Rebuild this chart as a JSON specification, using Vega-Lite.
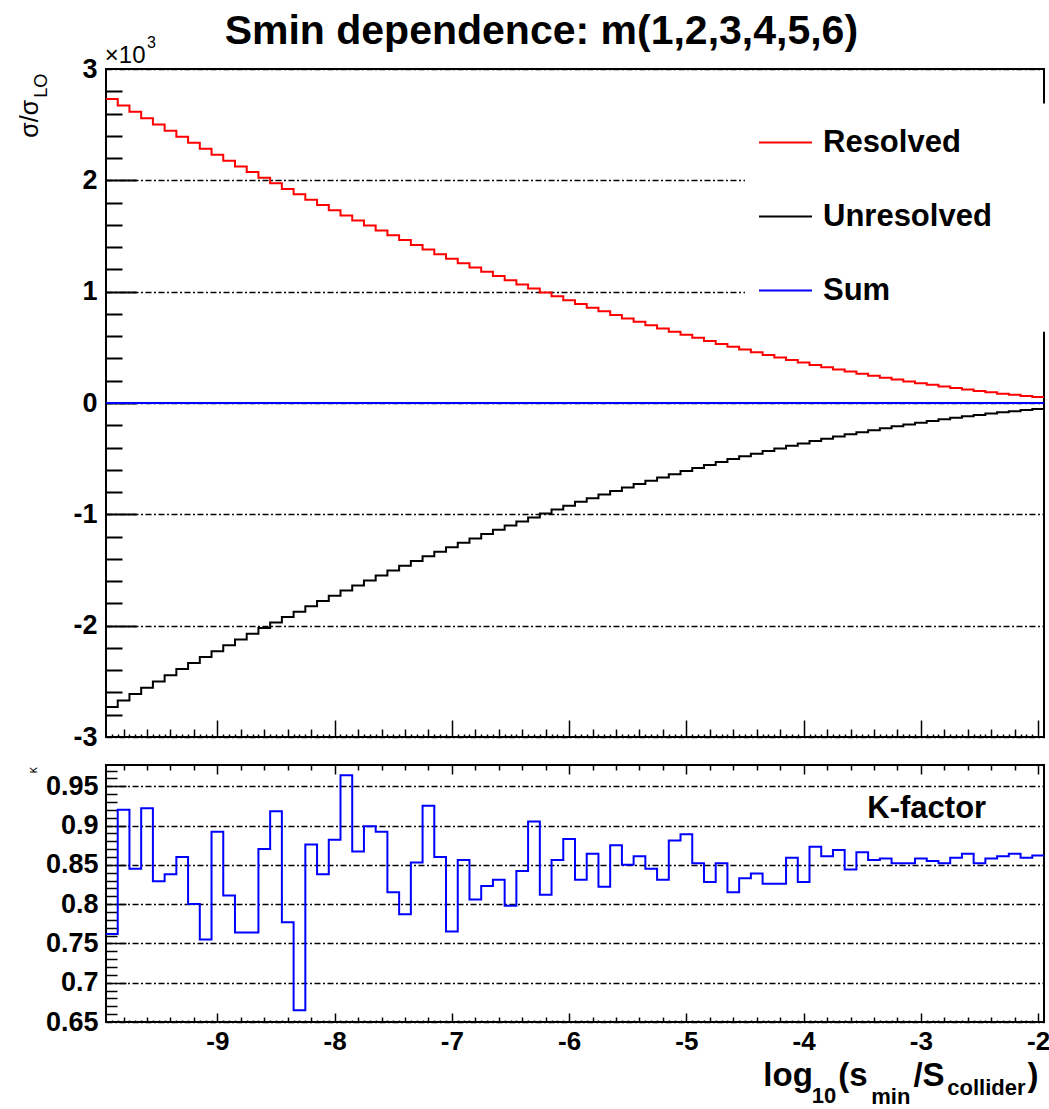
{
  "$schema": "https://vega.github.io/schema/vega-lite/v6.json",
  "background": "white",
  "padding": {"left": 17, "top": 9, "right": 0, "bottom": 0},
  "config": {
    "font": "Liberation Sans",
    "view": {"stroke": "black", "strokeWidth": 2},
    "axis": {"labelFont": "Liberation Sans", "labelColor": "black", "labelFontWeight": "bold", "labelFontSize": 27},
    "text": {"font": "Liberation Sans", "color": "black"}
  },
  "bounds": "flush",
  "spacing": 28,
  "resolve": {"scale": {"x": "independent", "y": "independent"}},
  "datasets": {
    "hist": [
      {"x": -9.95, "Resolved": 2731, "Unresolved": -2730, "Sum": 0.762},
      {"x": -9.85, "Resolved": 2673, "Unresolved": -2672, "Sum": 0.92},
      {"x": -9.75, "Resolved": 2615, "Unresolved": -2614, "Sum": 0.845},
      {"x": -9.65, "Resolved": 2558, "Unresolved": -2557, "Sum": 0.922},
      {"x": -9.55, "Resolved": 2502, "Unresolved": -2501, "Sum": 0.829},
      {"x": -9.45, "Resolved": 2446, "Unresolved": -2445, "Sum": 0.838},
      {"x": -9.35, "Resolved": 2391, "Unresolved": -2390, "Sum": 0.86},
      {"x": -9.25, "Resolved": 2337, "Unresolved": -2336, "Sum": 0.8},
      {"x": -9.15, "Resolved": 2283, "Unresolved": -2282, "Sum": 0.755},
      {"x": -9.05, "Resolved": 2230, "Unresolved": -2229, "Sum": 0.892},
      {"x": -8.95, "Resolved": 2177, "Unresolved": -2176, "Sum": 0.811},
      {"x": -8.85, "Resolved": 2125, "Unresolved": -2124, "Sum": 0.764},
      {"x": -8.75, "Resolved": 2074, "Unresolved": -2073, "Sum": 0.764},
      {"x": -8.65, "Resolved": 2023, "Unresolved": -2022, "Sum": 0.87},
      {"x": -8.55, "Resolved": 1973, "Unresolved": -1972, "Sum": 0.918},
      {"x": -8.45, "Resolved": 1923, "Unresolved": -1922, "Sum": 0.777},
      {"x": -8.35, "Resolved": 1875, "Unresolved": -1874, "Sum": 0.665},
      {"x": -8.25, "Resolved": 1826, "Unresolved": -1825, "Sum": 0.876},
      {"x": -8.15, "Resolved": 1779, "Unresolved": -1778, "Sum": 0.838},
      {"x": -8.05, "Resolved": 1732, "Unresolved": -1731, "Sum": 0.882},
      {"x": -7.95, "Resolved": 1685, "Unresolved": -1684, "Sum": 0.964},
      {"x": -7.85, "Resolved": 1640, "Unresolved": -1639, "Sum": 0.867},
      {"x": -7.75, "Resolved": 1595, "Unresolved": -1594, "Sum": 0.899},
      {"x": -7.65, "Resolved": 1550, "Unresolved": -1549, "Sum": 0.892},
      {"x": -7.55, "Resolved": 1506, "Unresolved": -1505, "Sum": 0.815},
      {"x": -7.45, "Resolved": 1463, "Unresolved": -1462, "Sum": 0.787},
      {"x": -7.35, "Resolved": 1420, "Unresolved": -1419, "Sum": 0.853},
      {"x": -7.25, "Resolved": 1378, "Unresolved": -1377, "Sum": 0.925},
      {"x": -7.15, "Resolved": 1337, "Unresolved": -1336, "Sum": 0.86},
      {"x": -7.05, "Resolved": 1296, "Unresolved": -1295, "Sum": 0.765},
      {"x": -6.95, "Resolved": 1256, "Unresolved": -1255, "Sum": 0.856},
      {"x": -6.85, "Resolved": 1217, "Unresolved": -1216, "Sum": 0.806},
      {"x": -6.75, "Resolved": 1178, "Unresolved": -1177, "Sum": 0.823},
      {"x": -6.65, "Resolved": 1140, "Unresolved": -1139, "Sum": 0.831},
      {"x": -6.55, "Resolved": 1102, "Unresolved": -1101, "Sum": 0.798},
      {"x": -6.45, "Resolved": 1065, "Unresolved": -1064, "Sum": 0.842},
      {"x": -6.35, "Resolved": 1029, "Unresolved": -1028, "Sum": 0.905},
      {"x": -6.25, "Resolved": 993, "Unresolved": -992, "Sum": 0.812},
      {"x": -6.15, "Resolved": 958, "Unresolved": -957, "Sum": 0.856},
      {"x": -6.05, "Resolved": 923, "Unresolved": -922, "Sum": 0.883},
      {"x": -5.95, "Resolved": 889, "Unresolved": -888, "Sum": 0.831},
      {"x": -5.85, "Resolved": 856, "Unresolved": -855, "Sum": 0.864},
      {"x": -5.75, "Resolved": 823, "Unresolved": -822, "Sum": 0.822},
      {"x": -5.65, "Resolved": 791, "Unresolved": -790, "Sum": 0.875},
      {"x": -5.55, "Resolved": 760, "Unresolved": -759, "Sum": 0.85},
      {"x": -5.45, "Resolved": 729, "Unresolved": -728, "Sum": 0.861},
      {"x": -5.35, "Resolved": 699, "Unresolved": -698, "Sum": 0.845},
      {"x": -5.25, "Resolved": 670, "Unresolved": -669, "Sum": 0.831},
      {"x": -5.15, "Resolved": 641, "Unresolved": -640, "Sum": 0.881},
      {"x": -5.05, "Resolved": 612, "Unresolved": -611, "Sum": 0.889},
      {"x": -4.95, "Resolved": 585, "Unresolved": -584, "Sum": 0.852},
      {"x": -4.85, "Resolved": 558, "Unresolved": -557, "Sum": 0.828},
      {"x": -4.75, "Resolved": 531, "Unresolved": -530, "Sum": 0.852},
      {"x": -4.65, "Resolved": 505, "Unresolved": -504, "Sum": 0.815},
      {"x": -4.55, "Resolved": 480, "Unresolved": -479, "Sum": 0.833},
      {"x": -4.45, "Resolved": 456, "Unresolved": -455, "Sum": 0.839},
      {"x": -4.35, "Resolved": 432, "Unresolved": -431, "Sum": 0.826},
      {"x": -4.25, "Resolved": 409, "Unresolved": -408, "Sum": 0.826},
      {"x": -4.15, "Resolved": 386, "Unresolved": -385, "Sum": 0.859},
      {"x": -4.05, "Resolved": 364, "Unresolved": -363, "Sum": 0.828},
      {"x": -3.95, "Resolved": 342, "Unresolved": -341, "Sum": 0.873},
      {"x": -3.85, "Resolved": 322, "Unresolved": -321, "Sum": 0.861},
      {"x": -3.75, "Resolved": 301, "Unresolved": -300, "Sum": 0.869},
      {"x": -3.65, "Resolved": 282, "Unresolved": -281, "Sum": 0.844},
      {"x": -3.55, "Resolved": 263, "Unresolved": -262, "Sum": 0.866},
      {"x": -3.45, "Resolved": 245, "Unresolved": -244, "Sum": 0.856},
      {"x": -3.35, "Resolved": 227, "Unresolved": -226, "Sum": 0.858},
      {"x": -3.25, "Resolved": 210, "Unresolved": -209, "Sum": 0.852},
      {"x": -3.15, "Resolved": 194, "Unresolved": -193, "Sum": 0.852},
      {"x": -3.05, "Resolved": 178, "Unresolved": -177, "Sum": 0.858},
      {"x": -2.95, "Resolved": 163, "Unresolved": -162, "Sum": 0.855},
      {"x": -2.85, "Resolved": 148, "Unresolved": -147, "Sum": 0.852},
      {"x": -2.75, "Resolved": 134, "Unresolved": -133, "Sum": 0.859},
      {"x": -2.65, "Resolved": 121, "Unresolved": -120, "Sum": 0.864},
      {"x": -2.55, "Resolved": 108, "Unresolved": -107, "Sum": 0.852},
      {"x": -2.45, "Resolved": 96, "Unresolved": -95, "Sum": 0.858},
      {"x": -2.35, "Resolved": 84, "Unresolved": -83, "Sum": 0.861},
      {"x": -2.25, "Resolved": 74, "Unresolved": -73, "Sum": 0.864},
      {"x": -2.15, "Resolved": 63, "Unresolved": -62, "Sum": 0.859},
      {"x": -2.05, "Resolved": 54, "Unresolved": -53, "Sum": 0.862},
      {"x": -1.95, "Resolved": 54, "Unresolved": -53, "Sum": 0.862}
    ]
  },
  "vconcat": [
    {
      "width": 938,
      "height": 668,
      "data": {"name": "hist"},
      "resolve": {"axis": {"x": "independent", "y": "independent"}},
      "layer": [
        {
          "data": {"values": [{}]},
          "mark": {"type": "rect", "color": "white", "clip": false},
          "encoding": {
            "x": {"datum": -4.4, "type": "quantitative", "scale": {"domain": [-9.95, -1.95], "nice": false, "zero": false}, "axis": null},
            "x2": {"datum": -1.92},
            "y": {"datum": 640, "type": "quantitative", "scale": {"domain": [-3000, 3000], "nice": false, "zero": false}, "axis": null},
            "y2": {"datum": 2690}
          }
        },
        {
          "transform": [{"fold": ["Resolved", "Unresolved", "Sum"], "as": ["series", "value"]}],
          "mark": {"type": "line", "interpolate": "step-after", "strokeWidth": 2},
          "encoding": {
            "x": {
              "field": "x", "type": "quantitative",
              "scale": {"domain": [-9.95, -1.95], "nice": false, "zero": false},
              "axis": {
                "orient": "bottom", "title": null, "labels": false, "domain": false, "grid": false,
                "values": [-9.9,-9.85,-9.8,-9.75,-9.7,-9.65,-9.6,-9.55,-9.5,-9.45,-9.4,-9.35,-9.3,-9.25,-9.2,-9.15,-9.1,-9.05,-9,-8.95,-8.9,-8.85,-8.8,-8.75,-8.7,-8.65,-8.6,-8.55,-8.5,-8.45,-8.4,-8.35,-8.3,-8.25,-8.2,-8.15,-8.1,-8.05,-8,-7.95,-7.9,-7.85,-7.8,-7.75,-7.7,-7.65,-7.6,-7.55,-7.5,-7.45,-7.4,-7.35,-7.3,-7.25,-7.2,-7.15,-7.1,-7.05,-7,-6.95,-6.9,-6.85,-6.8,-6.75,-6.7,-6.65,-6.6,-6.55,-6.5,-6.45,-6.4,-6.35,-6.3,-6.25,-6.2,-6.15,-6.1,-6.05,-6,-5.95,-5.9,-5.85,-5.8,-5.75,-5.7,-5.65,-5.6,-5.55,-5.5,-5.45,-5.4,-5.35,-5.3,-5.25,-5.2,-5.15,-5.1,-5.05,-5,-4.95,-4.9,-4.85,-4.8,-4.75,-4.7,-4.65,-4.6,-4.55,-4.5,-4.45,-4.4,-4.35,-4.3,-4.25,-4.2,-4.15,-4.1,-4.05,-4,-3.95,-3.9,-3.85,-3.8,-3.75,-3.7,-3.65,-3.6,-3.55,-3.5,-3.45,-3.4,-3.35,-3.3,-3.25,-3.2,-3.15,-3.1,-3.05,-3,-2.95,-2.9,-2.85,-2.8,-2.75,-2.7,-2.65,-2.6,-2.55,-2.5,-2.45,-2.4,-2.35,-2.3,-2.25,-2.2,-2.15,-2.1,-2.05,-2],
                "tickColor": "black", "tickWidth": 1.5,
                "tickSize": {"condition": [
                  {"test": "abs(datum.value-round(datum.value))<0.001", "value": -17},
                  {"test": "abs(datum.value*5-round(datum.value*5))<0.001", "value": -8}
                ], "value": -3}
              }
            },
            "y": {
              "field": "value", "type": "quantitative",
              "scale": {"domain": [-3000, 3000], "nice": false, "zero": false},
              "axis": {
                "orient": "left", "title": null, "values": [-3000, -2000, -1000, 0, 1000, 2000, 3000],
                "ticks": false, "domain": false, "grid": true, "gridColor": "black", "gridWidth": 1.5,
                "gridDash": [6, 2.5, 2, 2.5], "labelExpr": "'' + (datum.value/1000)", "labelPadding": 9
              }
            },
            "color": {
              "field": "series", "type": "nominal",
              "scale": {"domain": ["Resolved", "Unresolved", "Sum"], "range": ["#ff0000", "#000000", "#0000ff"]},
              "legend": {
                "orient": "none", "legendX": 639, "legendY": 33, "title": null,
                "symbolType": "stroke", "symbolStrokeWidth": 2, "symbolSize": 2809,
                "labelFont": "Liberation Sans", "labelFontSize": 31, "labelFontWeight": "bold", "labelColor": "black",
                "labelLimit": 0,
                "fillColor": "white", "padding": 13, "rowPadding": 31, "labelOffset": 10
              }
            }
          }
        },
        {
          "mark": {"type": "point", "opacity": 0},
          "encoding": {
            "x": {"field": "x", "type": "quantitative", "scale": {"domain": [-9.95, -1.95], "nice": false, "zero": false}, "axis": null},
            "y": {
              "field": "Resolved", "type": "quantitative",
              "scale": {"domain": [-3000, 3000], "nice": false, "zero": false},
              "axis": {
                "orient": "left", "title": null, "labels": false, "domain": false, "grid": false,
                "values": [-2800,-2600,-2400,-2200,-2000,-1800,-1600,-1400,-1200,-1000,-800,-600,-400,-200,0,200,400,600,800,1000,1200,1400,1600,1800,2000,2200,2400,2600,2800],
                "tickColor": "black", "tickWidth": 2,
                "tickSize": {"condition": {"test": "abs(datum.value/1000-round(datum.value/1000))<0.001", "value": -30}, "value": -16}
              }
            }
          }
        },
        {
          "data": {"values": [{}]},
          "mark": {"type": "text", "text": "Smin dependence: m(1,2,3,4,5,6)", "fontSize": 41, "fontWeight": "bold", "align": "center", "baseline": "alphabetic"},
          "encoding": {
            "x": {"datum": -6.237, "type": "quantitative", "scale": {"domain": [-9.95, -1.95], "nice": false, "zero": false}, "axis": null},
            "y": {"datum": 3227, "type": "quantitative", "scale": {"domain": [-3000, 3000], "nice": false, "zero": false}, "axis": null}
          }
        },
        {
          "data": {"values": [{}]},
          "mark": {"type": "text", "text": "×10", "fontSize": 24, "align": "left", "baseline": "alphabetic"},
          "encoding": {
            "x": {"datum": -9.96, "type": "quantitative", "scale": {"domain": [-9.95, -1.95], "nice": false, "zero": false}, "axis": null},
            "y": {"datum": 3057, "type": "quantitative", "scale": {"domain": [-3000, 3000], "nice": false, "zero": false}, "axis": null}
          }
        },
        {
          "data": {"values": [{}]},
          "mark": {"type": "text", "text": "3", "fontSize": 16, "align": "left", "baseline": "alphabetic"},
          "encoding": {
            "x": {"datum": -9.6, "type": "quantitative", "scale": {"domain": [-9.95, -1.95], "nice": false, "zero": false}, "axis": null},
            "y": {"datum": 3191, "type": "quantitative", "scale": {"domain": [-3000, 3000], "nice": false, "zero": false}, "axis": null}
          }
        },
        {
          "data": {"values": [{}]},
          "mark": {"type": "text", "text": "σ/σ", "fontSize": 25, "angle": 270, "align": "left", "baseline": "alphabetic"},
          "encoding": {
            "x": {"datum": -10.527, "type": "quantitative", "scale": {"domain": [-9.95, -1.95], "nice": false, "zero": false}, "axis": null},
            "y": {"datum": 2383, "type": "quantitative", "scale": {"domain": [-3000, 3000], "nice": false, "zero": false}, "axis": null}
          }
        },
        {
          "data": {"values": [{}]},
          "mark": {"type": "text", "text": "LO", "fontSize": 18, "angle": 270, "align": "left", "baseline": "alphabetic"},
          "encoding": {
            "x": {"datum": -10.45, "type": "quantitative", "scale": {"domain": [-9.95, -1.95], "nice": false, "zero": false}, "axis": null},
            "y": {"datum": 2742, "type": "quantitative", "scale": {"domain": [-3000, 3000], "nice": false, "zero": false}, "axis": null}
          }
        }
      ]
    },
    {
      "width": 938,
      "height": 257,
      "data": {"name": "hist"},
      "resolve": {"axis": {"x": "independent", "y": "independent"}},
      "layer": [
        {
          "mark": {"type": "line", "interpolate": "step-after", "strokeWidth": 2, "color": "#0000ff"},
          "encoding": {
            "x": {
              "field": "x", "type": "quantitative",
              "scale": {"domain": [-9.95, -1.95], "nice": false, "zero": false},
              "axis": {
                "orient": "bottom", "title": null, "values": [-9, -8, -7, -6, -5, -4, -3, -2],
                "ticks": false, "domain": false, "grid": false, "labelFlush": false, "labelFontSize": 26,
                "labelExpr": "'' + datum.value", "labelPadding": 6
              }
            },
            "y": {
              "field": "Sum", "type": "quantitative",
              "scale": {"domain": [0.65, 0.977], "nice": false, "zero": false},
              "axis": {
                "orient": "left", "title": null, "values": [0.65, 0.7, 0.75, 0.8, 0.85, 0.9, 0.95],
                "ticks": false, "domain": false, "grid": true, "gridColor": "black", "gridWidth": 1.5,
                "gridDash": [6, 2.5, 2, 2.5], "labelExpr": "'' + round(datum.value*100)/100", "labelPadding": 8
              }
            }
          }
        },
        {
          "mark": {"type": "point", "opacity": 0},
          "encoding": {
            "x": {
              "field": "x", "type": "quantitative",
              "scale": {"domain": [-9.95, -1.95], "nice": false, "zero": false},
              "axis": {
                "orient": "bottom", "title": null, "labels": false, "domain": false, "grid": false,
                "values": [-9.9,-9.85,-9.8,-9.75,-9.7,-9.65,-9.6,-9.55,-9.5,-9.45,-9.4,-9.35,-9.3,-9.25,-9.2,-9.15,-9.1,-9.05,-9,-8.95,-8.9,-8.85,-8.8,-8.75,-8.7,-8.65,-8.6,-8.55,-8.5,-8.45,-8.4,-8.35,-8.3,-8.25,-8.2,-8.15,-8.1,-8.05,-8,-7.95,-7.9,-7.85,-7.8,-7.75,-7.7,-7.65,-7.6,-7.55,-7.5,-7.45,-7.4,-7.35,-7.3,-7.25,-7.2,-7.15,-7.1,-7.05,-7,-6.95,-6.9,-6.85,-6.8,-6.75,-6.7,-6.65,-6.6,-6.55,-6.5,-6.45,-6.4,-6.35,-6.3,-6.25,-6.2,-6.15,-6.1,-6.05,-6,-5.95,-5.9,-5.85,-5.8,-5.75,-5.7,-5.65,-5.6,-5.55,-5.5,-5.45,-5.4,-5.35,-5.3,-5.25,-5.2,-5.15,-5.1,-5.05,-5,-4.95,-4.9,-4.85,-4.8,-4.75,-4.7,-4.65,-4.6,-4.55,-4.5,-4.45,-4.4,-4.35,-4.3,-4.25,-4.2,-4.15,-4.1,-4.05,-4,-3.95,-3.9,-3.85,-3.8,-3.75,-3.7,-3.65,-3.6,-3.55,-3.5,-3.45,-3.4,-3.35,-3.3,-3.25,-3.2,-3.15,-3.1,-3.05,-3,-2.95,-2.9,-2.85,-2.8,-2.75,-2.7,-2.65,-2.6,-2.55,-2.5,-2.45,-2.4,-2.35,-2.3,-2.25,-2.2,-2.15,-2.1,-2.05,-2],
                "tickColor": "black", "tickWidth": 1.5,
                "tickSize": {"condition": [
                  {"test": "abs(datum.value-round(datum.value))<0.001", "value": -9},
                  {"test": "abs(datum.value*5-round(datum.value*5))<0.001", "value": -5}
                ], "value": -2}
              }
            },
            "y": {
              "field": "Sum", "type": "quantitative",
              "scale": {"domain": [0.65, 0.977], "nice": false, "zero": false},
              "axis": {
                "orient": "left", "title": null, "labels": false, "domain": false, "grid": false,
                "values": [0.66,0.67,0.68,0.69,0.7,0.71,0.72,0.73,0.74,0.75,0.76,0.77,0.78,0.79,0.8,0.81,0.82,0.83,0.84,0.85,0.86,0.87,0.88,0.89,0.9,0.91,0.92,0.93,0.94,0.95,0.96,0.97],
                "tickColor": "black", "tickWidth": 1.5,
                "tickSize": {"condition": {"test": "abs(datum.value*20-round(datum.value*20))<0.001", "value": -20}, "value": -11}
              }
            }
          }
        },
        {
          "mark": {"type": "point", "opacity": 0},
          "encoding": {
            "x": {
              "field": "x", "type": "quantitative",
              "scale": {"domain": [-9.95, -1.95], "nice": false, "zero": false},
              "axis": {
                "orient": "top", "title": null, "labels": false, "domain": false, "grid": false,
                "values": [-9.8,-9.6,-9.4,-9.2,-9,-8.8,-8.6,-8.4,-8.2,-8,-7.8,-7.6,-7.4,-7.2,-7,-6.8,-6.6,-6.4,-6.2,-6,-5.8,-5.6,-5.4,-5.2,-5,-4.8,-4.6,-4.4,-4.2,-4,-3.8,-3.6,-3.4,-3.2,-3,-2.8,-2.6,-2.4,-2.2,-2],
                "tickColor": "black", "tickWidth": 1.5,
                "tickSize": {"condition": {"test": "abs(datum.value-round(datum.value))<0.001", "value": -9}, "value": -5}
              }
            },
            "y": {"field": "Sum", "type": "quantitative", "scale": {"domain": [0.65, 0.977], "nice": false, "zero": false}, "axis": null}
          }
        },
        {
          "data": {"values": [{}]},
          "mark": {"type": "text", "text": "K-factor", "fontSize": 31, "fontWeight": "bold", "align": "left", "baseline": "alphabetic"},
          "encoding": {
            "x": {"datum": -3.457, "type": "quantitative", "scale": {"domain": [-9.95, -1.95], "nice": false, "zero": false}, "axis": null},
            "y": {"datum": 0.9095, "type": "quantitative", "scale": {"domain": [0.65, 0.977], "nice": false, "zero": false}, "axis": null}
          }
        },
        {
          "data": {"values": [{}]},
          "mark": {"type": "text", "text": "κ", "fontSize": 12, "angle": 270, "align": "left", "baseline": "alphabetic"},
          "encoding": {
            "x": {"datum": -10.535, "type": "quantitative", "scale": {"domain": [-9.95, -1.95], "nice": false, "zero": false}, "axis": null},
            "y": {"datum": 0.9666, "type": "quantitative", "scale": {"domain": [0.65, 0.977], "nice": false, "zero": false}, "axis": null}
          }
        },
        {
          "data": {"values": [{}]},
          "mark": {"type": "text", "text": "log", "fontSize": 33, "fontWeight": "bold", "align": "left", "baseline": "alphabetic"},
          "encoding": {
            "x": {"datum": -4.344, "type": "quantitative", "scale": {"domain": [-9.95, -1.95], "nice": false, "zero": false}, "axis": null},
            "y": {"datum": 0.5685, "type": "quantitative", "scale": {"domain": [0.65, 0.977], "nice": false, "zero": false}, "axis": null}
          }
        },
        {
          "data": {"values": [{}]},
          "mark": {"type": "text", "text": "10", "fontSize": 22, "fontWeight": "bold", "align": "left", "baseline": "alphabetic"},
          "encoding": {
            "x": {"datum": -3.93, "type": "quantitative", "scale": {"domain": [-9.95, -1.95], "nice": false, "zero": false}, "axis": null},
            "y": {"datum": 0.547, "type": "quantitative", "scale": {"domain": [0.65, 0.977], "nice": false, "zero": false}, "axis": null}
          }
        },
        {
          "data": {"values": [{}]},
          "mark": {"type": "text", "text": "(s", "fontSize": 33, "fontWeight": "bold", "align": "left", "baseline": "alphabetic"},
          "encoding": {
            "x": {"datum": -3.704, "type": "quantitative", "scale": {"domain": [-9.95, -1.95], "nice": false, "zero": false}, "axis": null},
            "y": {"datum": 0.5685, "type": "quantitative", "scale": {"domain": [0.65, 0.977], "nice": false, "zero": false}, "axis": null}
          }
        },
        {
          "data": {"values": [{}]},
          "mark": {"type": "text", "text": "min", "fontSize": 22, "fontWeight": "bold", "align": "left", "baseline": "alphabetic"},
          "encoding": {
            "x": {"datum": -3.423, "type": "quantitative", "scale": {"domain": [-9.95, -1.95], "nice": false, "zero": false}, "axis": null},
            "y": {"datum": 0.546, "type": "quantitative", "scale": {"domain": [0.65, 0.977], "nice": false, "zero": false}, "axis": null}
          }
        },
        {
          "data": {"values": [{}]},
          "mark": {"type": "text", "text": "/S", "fontSize": 33, "fontWeight": "bold", "align": "left", "baseline": "alphabetic"},
          "encoding": {
            "x": {"datum": -3.064, "type": "quantitative", "scale": {"domain": [-9.95, -1.95], "nice": false, "zero": false}, "axis": null},
            "y": {"datum": 0.5685, "type": "quantitative", "scale": {"domain": [0.65, 0.977], "nice": false, "zero": false}, "axis": null}
          }
        },
        {
          "data": {"values": [{}]},
          "mark": {"type": "text", "text": "collider", "fontSize": 22, "fontWeight": "bold", "align": "left", "baseline": "alphabetic"},
          "encoding": {
            "x": {"datum": -2.775, "type": "quantitative", "scale": {"domain": [-9.95, -1.95], "nice": false, "zero": false}, "axis": null},
            "y": {"datum": 0.5575, "type": "quantitative", "scale": {"domain": [0.65, 0.977], "nice": false, "zero": false}, "axis": null}
          }
        },
        {
          "data": {"values": [{}]},
          "mark": {"type": "text", "text": ")", "fontSize": 33, "fontWeight": "bold", "align": "left", "baseline": "alphabetic"},
          "encoding": {
            "x": {"datum": -2.09, "type": "quantitative", "scale": {"domain": [-9.95, -1.95], "nice": false, "zero": false}, "axis": null},
            "y": {"datum": 0.5685, "type": "quantitative", "scale": {"domain": [0.65, 0.977], "nice": false, "zero": false}, "axis": null}
          }
        }
      ]
    }
  ]
}
